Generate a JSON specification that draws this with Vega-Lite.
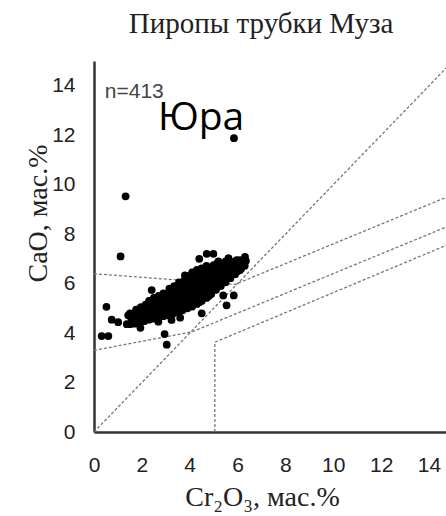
{
  "$schema": "https://vega.github.io/schema/vega-lite/v6.json",
  "width": 352,
  "height": 371,
  "autosize": {"type": "none"},
  "padding": {"left": 94, "top": 61, "right": 0, "bottom": 84},
  "background": "white",
  "config": {"view": {"stroke": null}},
  "title": {
    "text": "Пиропы трубки Муза",
    "font": "Liberation Serif",
    "fontSize": 29,
    "fontWeight": "normal",
    "color": "#222",
    "anchor": "middle",
    "frame": "group",
    "baseline": "alphabetic",
    "offset": -1,
    "dx": -9
  },
  "datasets": {
    "pts": [
      {"cr": 5.85, "ca": 11.88}, {"cr": 1.32, "ca": 9.53}, {"cr": 1.11, "ca": 7.1},
      {"cr": 0.52, "ca": 5.06}, {"cr": 0.74, "ca": 4.54}, {"cr": 1.01, "ca": 4.44},
      {"cr": 0.32, "ca": 3.88}, {"cr": 0.6, "ca": 3.88}, {"cr": 1.94, "ca": 4.21},
      {"cr": 2.95, "ca": 3.96}, {"cr": 3.04, "ca": 3.53}, {"cr": 2.41, "ca": 5.74},
      {"cr": 4.4, "ca": 7.0}, {"cr": 4.71, "ca": 7.2}, {"cr": 4.99, "ca": 7.2},
      {"cr": 5.4, "ca": 5.52}, {"cr": 5.84, "ca": 5.52}, {"cr": 5.54, "ca": 5.12},
      {"cr": 4.5, "ca": 4.8}, {"cr": 2.69, "ca": 4.46}, {"cr": 3.24, "ca": 4.53},
      {"cr": 1.43, "ca": 4.72}, {"cr": 1.37, "ca": 4.36}, {"cr": 6.31, "ca": 7.08},
      {"cr": 5.96, "ca": 6.75}, {"cr": 5.62, "ca": 7.03}, {"cr": 3.8, "ca": 6.33},
      {"cr": 6.15, "ca": 6.6}, {"cr": 6.25, "ca": 6.78}, {"cr": 3.6, "ca": 4.62},
      {"cr": 1.5, "ca": 4.36}, {"cr": 1.56, "ca": 4.58}, {"cr": 1.5, "ca": 4.8},
      {"cr": 1.7, "ca": 4.38}, {"cr": 1.75, "ca": 4.6}, {"cr": 1.7, "ca": 4.82}, {"cr": 1.76, "ca": 4.95},
      {"cr": 1.9, "ca": 4.43}, {"cr": 1.95, "ca": 4.64}, {"cr": 1.9, "ca": 4.86}, {"cr": 1.96, "ca": 5.05},
      {"cr": 2.1, "ca": 4.48}, {"cr": 2.15, "ca": 4.7}, {"cr": 2.1, "ca": 4.92}, {"cr": 2.16, "ca": 5.15},
      {"cr": 2.3, "ca": 4.54}, {"cr": 2.35, "ca": 4.75}, {"cr": 2.3, "ca": 4.97}, {"cr": 2.36, "ca": 5.18}, {"cr": 2.3, "ca": 5.3},
      {"cr": 2.5, "ca": 4.58}, {"cr": 2.55, "ca": 4.8}, {"cr": 2.5, "ca": 5.02}, {"cr": 2.56, "ca": 5.22}, {"cr": 2.5, "ca": 5.42},
      {"cr": 2.7, "ca": 4.62}, {"cr": 2.75, "ca": 4.84}, {"cr": 2.7, "ca": 5.06}, {"cr": 2.76, "ca": 5.28}, {"cr": 2.7, "ca": 5.5},
      {"cr": 2.9, "ca": 4.68}, {"cr": 2.95, "ca": 4.9}, {"cr": 2.9, "ca": 5.12}, {"cr": 2.96, "ca": 5.34}, {"cr": 2.9, "ca": 5.6},
      {"cr": 3.1, "ca": 4.72}, {"cr": 3.15, "ca": 4.95}, {"cr": 3.1, "ca": 5.18}, {"cr": 3.16, "ca": 5.4}, {"cr": 3.1, "ca": 5.62}, {"cr": 3.15, "ca": 5.8},
      {"cr": 3.3, "ca": 4.78}, {"cr": 3.35, "ca": 5.0}, {"cr": 3.3, "ca": 5.22}, {"cr": 3.36, "ca": 5.44}, {"cr": 3.3, "ca": 5.66}, {"cr": 3.35, "ca": 5.9},
      {"cr": 3.5, "ca": 4.85}, {"cr": 3.55, "ca": 5.07}, {"cr": 3.5, "ca": 5.3}, {"cr": 3.56, "ca": 5.52}, {"cr": 3.5, "ca": 5.75}, {"cr": 3.55, "ca": 6.05},
      {"cr": 3.7, "ca": 4.92}, {"cr": 3.75, "ca": 5.15}, {"cr": 3.7, "ca": 5.38}, {"cr": 3.76, "ca": 5.6}, {"cr": 3.7, "ca": 5.82}, {"cr": 3.75, "ca": 6.1},
      {"cr": 3.9, "ca": 5.0}, {"cr": 3.95, "ca": 5.2}, {"cr": 3.9, "ca": 5.45}, {"cr": 3.96, "ca": 5.68}, {"cr": 3.9, "ca": 5.9}, {"cr": 3.95, "ca": 6.12}, {"cr": 3.9, "ca": 6.3},
      {"cr": 4.1, "ca": 5.07}, {"cr": 4.15, "ca": 5.3}, {"cr": 4.1, "ca": 5.52}, {"cr": 4.16, "ca": 5.75}, {"cr": 4.1, "ca": 5.98}, {"cr": 4.15, "ca": 6.2}, {"cr": 4.1, "ca": 6.45},
      {"cr": 4.3, "ca": 5.18}, {"cr": 4.35, "ca": 5.4}, {"cr": 4.3, "ca": 5.62}, {"cr": 4.36, "ca": 5.85}, {"cr": 4.3, "ca": 6.08}, {"cr": 4.35, "ca": 6.3}, {"cr": 4.3, "ca": 6.55},
      {"cr": 4.5, "ca": 5.3}, {"cr": 4.55, "ca": 5.52}, {"cr": 4.5, "ca": 5.75}, {"cr": 4.56, "ca": 5.98}, {"cr": 4.5, "ca": 6.2}, {"cr": 4.55, "ca": 6.42}, {"cr": 4.5, "ca": 6.62},
      {"cr": 4.7, "ca": 5.42}, {"cr": 4.75, "ca": 5.65}, {"cr": 4.7, "ca": 5.88}, {"cr": 4.76, "ca": 6.1}, {"cr": 4.7, "ca": 6.32}, {"cr": 4.75, "ca": 6.55}, {"cr": 4.7, "ca": 6.72},
      {"cr": 4.9, "ca": 5.58}, {"cr": 4.95, "ca": 5.8}, {"cr": 4.9, "ca": 6.02}, {"cr": 4.96, "ca": 6.24}, {"cr": 4.9, "ca": 6.46}, {"cr": 4.95, "ca": 6.68},
      {"cr": 5.1, "ca": 5.75}, {"cr": 5.15, "ca": 5.98}, {"cr": 5.1, "ca": 6.2}, {"cr": 5.16, "ca": 6.42}, {"cr": 5.1, "ca": 6.64}, {"cr": 5.15, "ca": 6.82},
      {"cr": 5.3, "ca": 5.9}, {"cr": 5.35, "ca": 6.12}, {"cr": 5.3, "ca": 6.35}, {"cr": 5.36, "ca": 6.58}, {"cr": 5.3, "ca": 6.8},
      {"cr": 5.5, "ca": 6.05}, {"cr": 5.55, "ca": 6.28}, {"cr": 5.5, "ca": 6.5}, {"cr": 5.56, "ca": 6.72}, {"cr": 5.5, "ca": 6.9},
      {"cr": 5.7, "ca": 6.22}, {"cr": 5.75, "ca": 6.45}, {"cr": 5.7, "ca": 6.65}, {"cr": 5.76, "ca": 6.88},
      {"cr": 5.9, "ca": 6.38}, {"cr": 5.95, "ca": 6.6}, {"cr": 5.9, "ca": 6.8}, {"cr": 5.96, "ca": 6.95},
      {"cr": 6.1, "ca": 6.55}, {"cr": 6.15, "ca": 6.75}, {"cr": 6.1, "ca": 6.95},
      {"cr": 6.3, "ca": 6.72}, {"cr": 6.35, "ca": 6.92},
      {"cr": 2.0, "ca": 4.55}, {"cr": 2.4, "ca": 4.65}, {"cr": 2.8, "ca": 4.75}, {"cr": 3.2, "ca": 4.85},
      {"cr": 3.6, "ca": 4.95}, {"cr": 4.0, "ca": 5.1}, {"cr": 4.4, "ca": 5.25}, {"cr": 4.8, "ca": 5.5},
      {"cr": 2.2, "ca": 5.1}, {"cr": 2.6, "ca": 5.3}, {"cr": 3.0, "ca": 5.5}, {"cr": 3.4, "ca": 5.78},
      {"cr": 3.8, "ca": 6.0}, {"cr": 4.2, "ca": 6.35}, {"cr": 4.6, "ca": 6.55}, {"cr": 5.0, "ca": 6.75},
      {"cr": 5.2, "ca": 6.9}, {"cr": 5.4, "ca": 6.1}, {"cr": 5.6, "ca": 6.3}, {"cr": 6.0, "ca": 6.5}
    ],
    "lines": [
      {"id": "diag", "i": 0, "cr": 0, "ca": 0}, {"id": "diag", "i": 1, "cr": 15, "ca": 15},
      {"id": "a", "i": 0, "cr": 0, "ca": 6.4}, {"id": "a", "i": 1, "cr": 5.9, "ca": 5.97}, {"id": "a", "i": 2, "cr": 15, "ca": 9.6},
      {"id": "c", "i": 0, "cr": 0, "ca": 3.3}, {"id": "c", "i": 1, "cr": 4.1, "ca": 4.05}, {"id": "c", "i": 2, "cr": 15, "ca": 8.4},
      {"id": "e", "i": 0, "cr": 5.05, "ca": 0}, {"id": "e", "i": 1, "cr": 5.05, "ca": 3.63}, {"id": "e", "i": 2, "cr": 15, "ca": 7.66}
    ],
    "xticks": [{"v": 0}, {"v": 2}, {"v": 4}, {"v": 6}, {"v": 8}, {"v": 10}, {"v": 12}, {"v": 14}],
    "yticks": [{"v": 0}, {"v": 2}, {"v": 4}, {"v": 6}, {"v": 8}, {"v": 10}, {"v": 12}, {"v": 14}]
  },
  "encoding": {
    "x": {
      "field": "cr", "type": "quantitative",
      "scale": {"domain": [0, 14.71], "nice": false, "zero": false},
      "axis": {
        "title": "Cr₂O₃, мас.%",
        "values": [0, 2, 4, 6, 8, 10, 12, 14],
        "grid": false, "ticks": false, "tickSize": 0,
        "domainColor": "#333", "domainWidth": 2.5,
        "labelFont": "Liberation Sans", "labelFontSize": 21, "labelColor": "#222",
        "labelPadding": 22, "labelFlush": false,
        "titleFont": "Liberation Serif", "titleFontSize": 28, "titleFontWeight": "normal", "titleColor": "#222",
        "titleBaseline": "alphabetic", "titleX": 168, "titleY": 73, "titleAlign": "center"
      }
    },
    "y": {
      "field": "ca", "type": "quantitative",
      "scale": {"domain": [0, 15], "nice": false, "zero": false},
      "axis": {
        "title": "CaO, мас.%",
        "values": [0, 2, 4, 6, 8, 10, 12, 14],
        "grid": false, "ticks": false, "tickSize": 0,
        "domainColor": "#333", "domainWidth": 2.5,
        "labelFont": "Liberation Sans", "labelFontSize": 21, "labelColor": "#222",
        "labelPadding": 19, "labelFlush": false,
        "titleFont": "Liberation Serif", "titleFontSize": 28, "titleFontWeight": "normal", "titleColor": "#222",
        "titleBaseline": "alphabetic", "titleAngle": 270, "titleX": -48, "titleY": 152, "titleAlign": "center"
      }
    }
  },
  "layer": [
    {
      "data": {"name": "lines"},
      "mark": {"type": "line", "clip": true, "color": "#777", "strokeWidth": 1.3, "strokeDash": [3, 2]},
      "encoding": {"detail": {"field": "id"}, "order": {"field": "i"}}
    },
    {
      "data": {"name": "pts"},
      "mark": {"type": "circle", "color": "black", "opacity": 1, "size": 60}
    },
    {
      "data": {"name": "xticks"},
      "mark": {"type": "tick", "orient": "vertical", "color": "#333", "size": 16, "thickness": 2},
      "encoding": {"x": {"field": "v", "type": "quantitative"}, "y": {"datum": 0}}
    },
    {
      "data": {"name": "yticks"},
      "mark": {"type": "tick", "orient": "horizontal", "color": "#333", "size": 16, "thickness": 2},
      "encoding": {"y": {"field": "v", "type": "quantitative"}, "x": {"datum": 0}}
    },
    {
      "data": {"values": [{"ca": 15}]},
      "mark": {"type": "rule", "color": "#333", "strokeWidth": 2.5},
      "encoding": {"y": {"field": "ca", "type": "quantitative"}, "x": {"datum": 0}, "x2": {"datum": 14.71}}
    },
    {
      "data": {"values": [{"cr": 0.45, "ca": 13.5, "t": "n=413"}]},
      "mark": {"type": "text", "font": "Liberation Sans", "fontSize": 21, "color": "#444", "align": "left", "baseline": "alphabetic"},
      "encoding": {"text": {"field": "t"}}
    },
    {
      "data": {"values": [{"cr": 2.67, "ca": 12.2, "t": "Юра"}]},
      "mark": {"type": "text", "font": "Open Sans", "fontSize": 39, "color": "black", "align": "left", "baseline": "alphabetic"},
      "encoding": {"text": {"field": "t"}}
    }
  ]
}
